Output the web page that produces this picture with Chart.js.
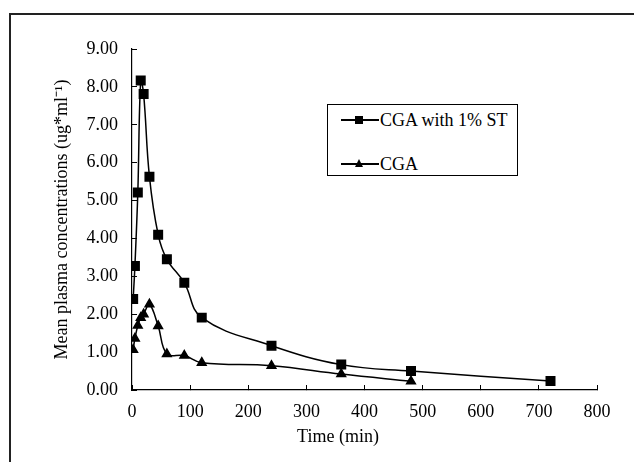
<!DOCTYPE html>
<html>
<head>
<meta charset="utf-8">
<script src="https://cdn.jsdelivr.net/npm/chart.js@4/dist/chart.umd.min.js"></script>
<style>
  html, body { margin: 0; padding: 0; background: #fff; overflow: hidden; }
  #wrap { position: relative; width: 634px; height: 462px; }
  #frame { position: absolute; left: 9px; top: 13px; width: 700px; height: 500px; border: 2px solid #222; box-sizing: border-box; }
  #plot { position: absolute; left: 0; top: 0; }
  #legend { position: absolute; left: 327px; top: 104px; width: 191px; height: 72px; border: 1px solid #000; box-sizing: border-box; background: #fff;
            font-family: "Liberation Serif", "Times New Roman", serif; font-size: 18px; color: #000; }
  .row { position: absolute; left: 0; width: 100%; height: 24px; }
  .row .ln { position: absolute; left: 13px; top: 11px; width: 38px; height: 1.5px; background: #000; }
  .row .sq { position: absolute; left: 27px; top: 8px; width: 8px; height: 8px; background: #000; }
  .row .tri { position: absolute; left: 27px; top: 7px; width: 0; height: 0; border-left: 4.5px solid transparent; border-right: 4.5px solid transparent; border-bottom: 8px solid #000; }
  .row .tx { position: absolute; left: 52px; top: 0; line-height: 24px; white-space: nowrap; }
</style>
</head>
<body>
<div id="wrap">
  <div id="frame"></div>
  <canvas id="plot" width="634" height="462"></canvas>
  <div id="legend">
    <div class="row" style="top:3px"><span class="ln"></span><span class="sq"></span><span class="tx" id="lg0"></span></div>
    <div class="row" style="top:47px"><span class="ln"></span><span class="tri"></span><span class="tx" id="lg1"></span></div>
  </div>
</div>
<script>
// data
const seriesNames = ['CGA with 1% ST', 'CGA'];
const timeST = [2, 5, 10, 15, 20, 30, 45, 60, 90, 120, 240, 360, 480, 720];
const concST = [2.40, 3.27, 5.21, 8.17, 7.81, 5.63, 4.10, 3.45, 2.83, 1.91, 1.17, 0.67, 0.50, 0.24];
const timeCGA = [2, 5, 10, 15, 20, 30, 45, 60, 90, 120, 240, 360, 480];
const concCGA = [1.06, 1.36, 1.70, 1.91, 2.00, 2.26, 1.69, 0.95, 0.91, 0.72, 0.64, 0.42, 0.23];
const xTitle = 'Time (min)';
const yTitle = 'Mean plasma concentrations (ug*ml\u207B\u00B9)';

document.getElementById('lg0').textContent = seriesNames[0];
document.getElementById('lg1').textContent = seriesNames[1];

const serif = "'Liberation Serif', 'Times New Roman', serif";

// x axis title sits left of the plot centre in the original
const xTitlePlugin = {
    id: 'xTitle',
    afterDraw(chart) {
        const ctx = chart.ctx;
        ctx.save();
        ctx.font = '18px ' + serif;
        ctx.fillStyle = '#000';
        ctx.textAlign = 'center';
        ctx.textBaseline = 'middle';
        ctx.fillText(xTitle, chart.chartArea.left + 206, 437);
        ctx.restore();
    }
};

function toPoints(xs, ys) {
    return xs.map((x, i) => ({ x: x, y: ys[i] }));
}

const ctx = document.getElementById('plot').getContext('2d');
const chart = new Chart(ctx, {
    type: 'line',
    data: {
        datasets: [{
            label: seriesNames[0],
            data: toPoints(timeST, concST),
            borderColor: '#000',
            backgroundColor: '#000',
            borderWidth: 1.5,
            pointStyle: 'rect',
            pointRadius: 6,
            tension: 0.4
        }, {
            label: seriesNames[1],
            data: toPoints(timeCGA, concCGA),
            borderColor: '#000',
            backgroundColor: '#000',
            borderWidth: 1.5,
            pointStyle: 'triangle',
            pointRadius: 5,
            tension: 0.4
        }]
    },
    options: {
        responsive: false,
        animation: false,
        layout: { padding: { left: 0, top: 49, right: 37, bottom: 0 } },
        plugins: {
            legend: { display: false },
            tooltip: { enabled: false }
        },
        scales: {
            x: {
                type: 'linear',
                min: 0,
                max: 800,
                afterFit: (scale) => { scale.height = 72; },
                ticks: { stepSize: 100, color: '#000', padding: 16, font: { family: serif, size: 18 } },
                grid: { drawOnChartArea: false, tickLength: -5, color: '#000' },
                border: { color: '#000', width: 1.2 }
            },
            y: {
                min: 0,
                max: 9,
                afterFit: (scale) => { scale.width = 132; },
                ticks: {
                    stepSize: 1,
                    color: '#000',
                    padding: 19,
                    font: { family: serif, size: 18 },
                    callback: (v) => v.toFixed(2)
                },
                grid: { drawOnChartArea: false, tickLength: -5, color: '#000' },
                border: { color: '#000', width: 1.2 },
                title: {
                    display: true,
                    text: yTitle,
                    color: '#000',
                    padding: { top: 51, bottom: 0 },
                    font: { family: serif, size: 18 }
                }
            }
        }
    },
    plugins: [xTitlePlugin]
});
</script>
</body>
</html>
